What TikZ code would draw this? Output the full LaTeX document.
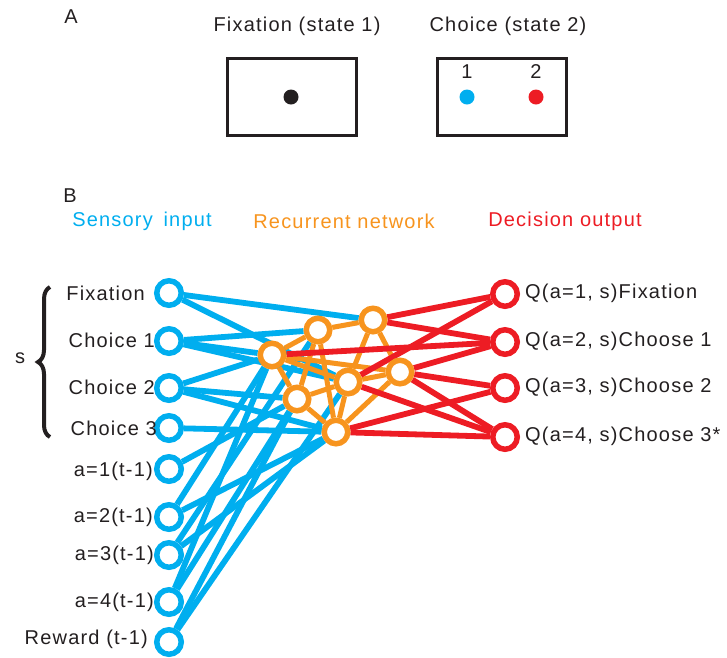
\documentclass[tikz,border=0pt]{standalone}
\usepackage{fontspec}
\setmainfont{Liberation Sans}[LetterSpace=6]
\usetikzlibrary{decorations.pathreplacing}
\definecolor{sblue}{HTML}{00AEEF}
\definecolor{sorange}{HTML}{F7941E}
\definecolor{sred}{HTML}{ED1C24}
\definecolor{ink}{HTML}{231F20}
\pgfdeclarelayer{bg}
\pgfsetlayers{bg,main}
\tikzset{
  lbl/.style={font=\fontsize{20}{24}\selectfont, text=ink, inner sep=0pt},
  inp/.style={circle, draw=sblue, line width=5.5pt, fill=white, minimum size=24.5pt, inner sep=0pt},
  rec/.style={circle, draw=sorange, line width=5.5pt, fill=white, minimum size=23.5pt, inner sep=0pt},
  outn/.style={circle, draw=sred, line width=5.5pt, fill=white, minimum size=24.5pt, inner sep=0pt},
  bl/.style={draw=sblue, line width=5.8pt},
  ol/.style={draw=sorange, line width=5pt},
  rl/.style={draw=sred, line width=5.8pt},
  box/.style={draw=ink, line width=3pt},
  dot/.style={circle, inner sep=0pt, minimum size=15pt}
}
\begin{document}
\begin{tikzpicture}[x=1pt,y=-1pt]
\useasboundingbox (0,0) rectangle (727,657);
% ---- Panel A ----
\node[lbl] (la) at (71,17) {A};
\node[lbl] (t1) at (297,26) {Fixation (state 1)};
\node[lbl] (t2) at (508,26) {Choice (state 2)};
\node[box, minimum width=129pt, minimum height=77pt, inner sep=0pt] (b1) at (291.5,96.5) {};
\node[box, minimum width=129pt, minimum height=77pt, inner sep=0pt] (b2) at (501.5,96.5) {};
\node[dot, fill=ink] (d0) at (291,97) {};
\node[dot, fill=sblue] (d1) at (467,97) {};
\node[dot, fill=sred] (d2) at (536,97) {};
\node[lbl] (n1) at (467,72) {1};
\node[lbl] (n2) at (536,72) {2};
% ---- Panel B ----
\node[lbl] (lb) at (70,196) {B};
\node[lbl, text=sblue] (h1) at (142,221) {Sensory\hspace{4pt} input};
\node[lbl, text=sorange] (h2) at (344,221) {Recurrent network};
\node[lbl, text=sred] (h3) at (565,221) {Decision output};
% input nodes
\node[inp] (in1) at (169,293) {};
\node[inp] (in2) at (169,341) {};
\node[inp] (in3) at (169,388) {};
\node[inp] (in4) at (169,428) {};
\node[inp] (in5) at (169,469) {};
\node[inp] (in6) at (169,517) {};
\node[inp] (in7) at (169,555) {};
\node[inp] (in8) at (169,602) {};
\node[inp] (in9) at (169,642) {};
% input labels
\node[lbl, anchor=east] (li1) at (145,293) {Fixation};
\node[lbl, anchor=east] (li2) at (155,340) {Choice 1};
\node[lbl, anchor=east] (li3) at (155,387) {Choice 2};
\node[lbl, anchor=east] (li4) at (157,428) {Choice 3};
\node[lbl, anchor=east] (li5) at (153,471) {a=1(t-1)};
\node[lbl, anchor=east] (li6) at (153,517) {a=2(t-1)};
\node[lbl, anchor=east] (li7) at (154,555) {a=3(t-1)};
\node[lbl, anchor=east] (li8) at (154,602) {a=4(t-1)};
\node[lbl, anchor=east] (li9) at (148,639) {Reward (t-1)};
% brace and s
\draw[ink, line width=4pt, decorate, decoration={brace, amplitude=12pt}] (50,437) -- (50,287);
\node[lbl] (ls) at (20,358) {s};
% recurrent nodes
\node[rec] (r1) at (373,320) {};
\node[rec] (r2) at (318,330) {};
\node[rec] (r3) at (272,355) {};
\node[rec] (r4) at (400,372) {};
\node[rec] (r5) at (348,382) {};
\node[rec] (r6) at (297,399) {};
\node[rec] (r7) at (336,432) {};
% output nodes
\node[outn] (o1) at (505,294) {};
\node[outn] (o2) at (505,342) {};
\node[outn] (o3) at (505,388) {};
\node[outn] (o4) at (505,437) {};
\node[lbl, anchor=west] (lo1) at (525,293) {Q(a=1, s)Fixation};
\node[lbl, anchor=west] (lo2) at (525,341) {Q(a=2, s)Choose 1};
\node[lbl, anchor=west] (lo3) at (525,387) {Q(a=3, s)Choose 2};
\node[lbl, anchor=west] (lo4) at (525,436) {Q(a=4, s)Choose 3*};
% ---- connections ----
\begin{pgfonlayer}{bg}
\foreach \a/\b in {in1/r1, in1/r5, in2/r2, in2/r3, in2/r5, in3/r3, in3/r6, in3/r7, in4/r7,
  in5/r6, in6/r3, in6/r7, in7/r2, in7/r7, in8/r3, in8/r6, in9/r5, in9/r6}
  \draw[bl] (\a) -- (\b);
\foreach \a/\b in {r1/r2, r2/r3, r3/r6, r3/r5, r3/r4, r2/r6, r2/r7, r1/r5, r1/r4,
  r5/r6, r6/r7, r5/r7, r4/r5, r4/r7}
  \draw[ol] (\a) -- (\b);
\foreach \a/\b in {r1/o1, r1/o2, r3/o2, r5/o1, r5/o4, r4/o2, r4/o3, r4/o4, r7/o3, r7/o4}
  \draw[rl] (\a) -- (\b);
\end{pgfonlayer}
\end{tikzpicture}
\end{document}
